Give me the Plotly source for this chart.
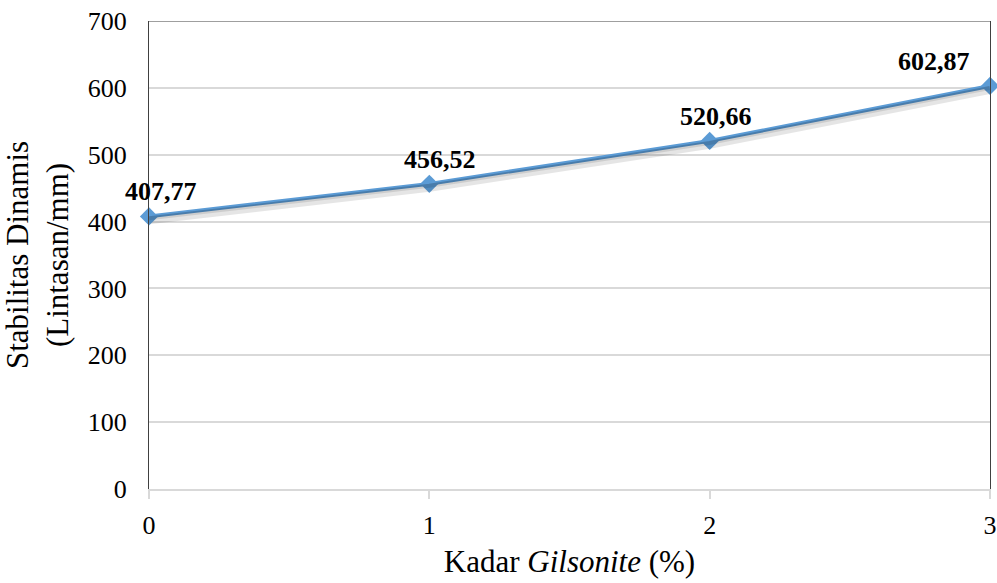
import plotly.graph_objects as go

kadar = [0, 1, 2, 3]
stabilitas = [407.77, 456.52, 520.66, 602.87]
label_xshift = [12, 11, 6, -56]
y_ticks = [0, 100, 200, 300, 400, 500, 600, 700]
x_ticks = [0, 1, 2, 3]

FONT = "Times New Roman, Liberation Serif, serif"
BLUE = "#5B9BD5"

fig = go.Figure()

# soft drop shadow under the line, drawn on slightly shifted overlay axes
fig.add_trace(go.Scatter(
    x=kadar, y=stabilitas, mode="lines",
    line=dict(color="rgba(0,0,0,0.10)", width=8),
    yaxis="y2", hoverinfo="skip", showlegend=False,
))
fig.add_trace(go.Scatter(
    x=kadar, y=stabilitas, mode="lines",
    line=dict(color="rgba(0,0,0,0.10)", width=4),
    yaxis="y3", hoverinfo="skip", showlegend=False,
))

fig.add_trace(go.Scatter(
    x=kadar, y=stabilitas, mode="lines+markers",
    line=dict(color=BLUE, width=3.8),
    marker=dict(symbol="diamond", size=14, color=BLUE),
    showlegend=False, cliponaxis=False,
))

for xv, yv, dx in zip(kadar, stabilitas, label_xshift):
    fig.add_annotation(
        x=xv, y=yv, text=f"{yv:.2f}".replace(".", ","),
        showarrow=False, yanchor="bottom", yshift=8, xshift=dx,
        font=dict(family=FONT, size=26, color="black", weight="bold"),
    )

# dark frame line along the top of the plot area
fig.add_shape(type="line", xref="paper", yref="y", x0=0, x1=1, y0=700, y1=700,
              line=dict(color="#404040", width=1.2))

fig.update_layout(
    width=997, height=583,
    margin=dict(l=149, r=7, t=21, b=94, autoexpand=False),
    paper_bgcolor="white", plot_bgcolor="white",
    font=dict(family=FONT, color="black"),
    xaxis=dict(
        range=[0, 3], tickvals=x_ticks, ticktext=[str(v) for v in x_ticks],
        showgrid=False, zeroline=False, automargin=False,
        showline=True, linecolor="#d9d9d9", linewidth=2,
        ticks="outside", ticklen=8, tickwidth=2, tickcolor="#d9d9d9",
        ticklabelstandoff=4,
        tickfont=dict(family=FONT, size=26),
        title=dict(text="Kadar <i>Gilsonite</i> (%)", font=dict(family=FONT, size=31), standoff=11),
    ),
    yaxis=dict(
        range=[0, 700], tickvals=y_ticks, automargin=False,
        showgrid=True, gridcolor="#d9d9d9", gridwidth=1.5, zeroline=False,
        showline=True, linecolor="#404040", linewidth=1.2, mirror=True,
        ticks="", ticklabelstandoff=16, tickfont=dict(family=FONT, size=26),
        title=dict(text="Stabilitas Dinamis<br>(Lintasan/mm)", font=dict(family=FONT, size=31), standoff=10),
    ),
    yaxis2=dict(range=[6, 706], overlaying="y", visible=False),
    yaxis3=dict(range=[3, 703], overlaying="y", visible=False),
)

fig.write_html("out.html")
